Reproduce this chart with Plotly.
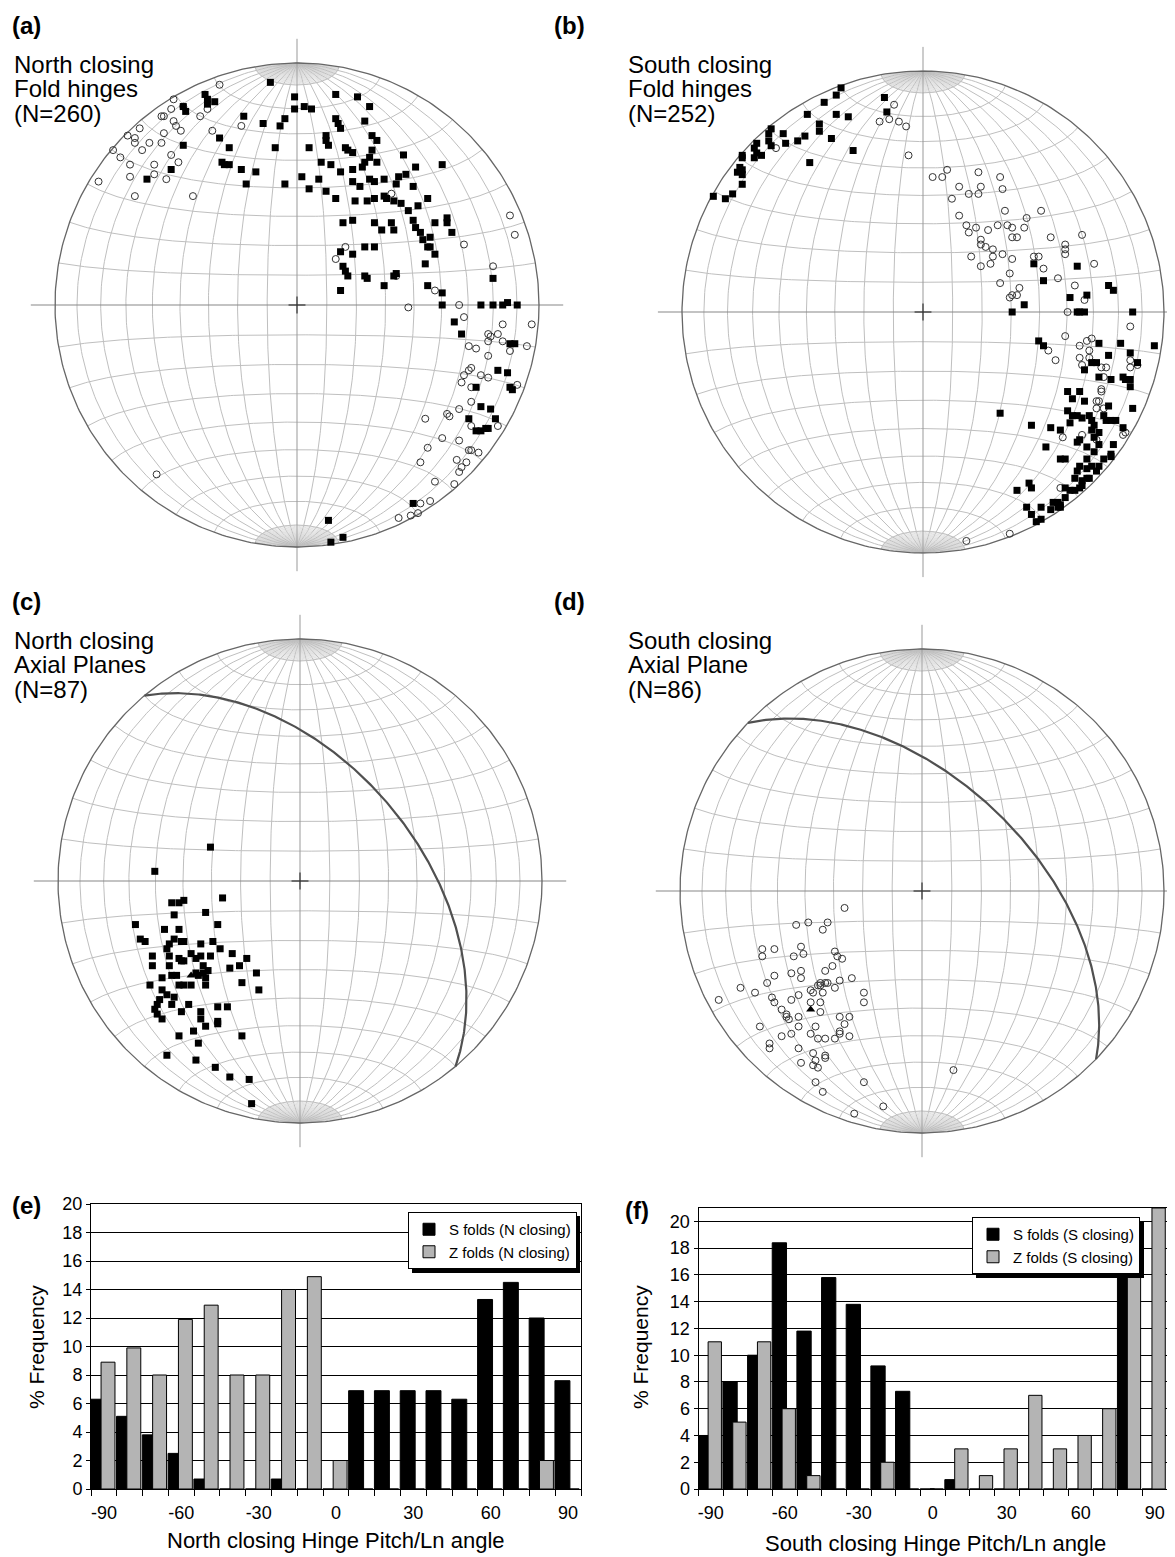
import numpy as np
import plotly.graph_objects as go

W, H = 1175, 1557
OFF = 8  # page offset of the figure (default body margin)
FONT = "Liberation Sans, Arial, Helvetica, sans-serif"

# ---------------- stereonet data (net coordinates, unit = primitive radius) ----------------
A_SQUARES = [(-0.11,0.92),(-0.01,0.86),(-0.01,0.81),(0.03,0.82),(0.06,0.81),(0.16,0.87),(0.25,0.86),(0.30,0.82),
 (0.28,0.76),(0.16,0.77),(0.17,0.75),(0.18,0.73),(-0.38,0.87),(-0.37,0.85),(-0.37,0.83),(-0.34,0.84),(-0.47,0.82),
 (-0.46,0.80),(-0.22,0.78),(-0.14,0.75),(-0.05,0.77),(-0.07,0.74),(-0.09,0.65),(0.05,0.65),(0.12,0.70),(0.12,0.68),
 (0.13,0.66),(0.20,0.65),(0.21,0.64),(0.23,0.63),(0.31,0.70),(0.33,0.68),(0.31,0.64),(0.44,0.62),(0.49,0.57),(0.60,0.58),
 (-0.32,0.69),(-0.28,0.65),(-0.47,0.66),(-0.52,0.56),(-0.62,0.52),(-0.31,0.59),(-0.30,0.58),(-0.28,0.58),(-0.23,0.56),
 (-0.17,0.55),(-0.21,0.50),(-0.05,0.50),(0.02,0.53),(0.05,0.48),(0.10,0.59),(0.14,0.58),(0.09,0.52),(0.12,0.47),(0.16,0.44),
 (0.18,0.55),(0.23,0.56),(0.27,0.57),(0.28,0.59),(0.30,0.61),(0.33,0.59),(0.23,0.51),(0.26,0.49),(0.30,0.52),(0.32,0.51),
 (0.36,0.52),(0.41,0.50),(0.42,0.53),(0.45,0.54),(0.48,0.49),(0.24,0.43),(0.29,0.43),(0.32,0.44),(0.36,0.45),(0.37,0.44),
 (0.40,0.43),(0.43,0.42),(0.46,0.39),(0.50,0.41),(0.54,0.44),(0.48,0.35),(0.49,0.32),(0.51,0.30),(0.52,0.27),(0.54,0.24),
 (0.55,0.24),(0.55,0.28),(0.57,0.34),(0.62,0.36),(0.62,0.34),(0.64,0.30),(0.19,0.34),(0.23,0.35),(0.32,0.34),(0.35,0.31),
 (0.39,0.34),(0.40,0.31),(0.18,0.22),(0.23,0.21),(0.28,0.24),(0.32,0.24),(0.19,0.16),(0.20,0.14),(0.21,0.12),(0.28,0.12),
 (0.29,0.11),(0.40,0.12),(0.41,0.13),(0.53,0.17),(0.57,0.21),(0.18,0.06),(0.36,0.08),(0.54,0.08),(0.60,0.05),(0.60,0.00),
 (0.76,0.00),(0.81,0.00),(0.85,0.00),(0.87,0.01),(0.91,0.00),(0.81,0.11),(0.65,-0.07),(0.68,-0.12),(0.88,-0.16),(0.90,-0.16),
 (0.83,-0.27),(0.87,-0.28),(0.88,-0.34),(0.89,-0.35),(0.74,-0.34),(0.76,-0.42),(0.80,-0.43),(0.71,-0.47),(0.82,-0.47),
 (0.74,-0.52),(0.76,-0.52),(0.78,-0.51),(0.79,-0.51),(0.48,-0.82),(0.13,-0.89),(0.14,-0.98),(0.19,-0.96)]
A_CIRCLES = [(-0.32,0.91),(-0.51,0.85),(-0.47,0.82),(-0.52,0.81),(-0.55,0.78),(-0.56,0.78),(-0.51,0.76),(-0.40,0.78),
 (-0.37,0.81),(-0.48,0.72),(-0.50,0.74),(-0.65,0.73),(-0.70,0.70),(-0.67,0.69),(-0.67,0.67),(-0.64,0.64),(-0.61,0.67),
 (-0.56,0.67),(-0.55,0.71),(-0.76,0.64),(-0.73,0.61),(-0.69,0.58),(-0.59,0.58),(-0.52,0.62),(-0.49,0.59),(-0.69,0.53),
 (-0.59,0.54),(-0.54,0.52),(-0.82,0.51),(-0.67,0.45),(-0.43,0.45),(-0.35,0.72),(-0.23,0.74),(0.39,0.46),(0.20,0.24),
 (0.16,0.19),(0.41,0.12),(0.57,0.06),(0.46,-0.01),(0.67,0.00),(0.69,-0.05),(0.69,0.25),(0.81,0.16),(0.88,0.37),(0.90,0.29),
 (0.97,-0.08),(0.95,-0.17),(0.85,-0.08),(0.79,-0.12),(0.80,-0.13),(0.79,-0.15),(0.83,-0.12),(0.71,-0.17),(0.74,-0.18),
 (0.85,-0.15),(0.88,-0.19),(0.79,-0.21),(0.72,-0.26),(0.71,-0.27),(0.69,-0.29),(0.68,-0.32),(0.76,-0.29),(0.79,-0.30),
 (0.72,-0.34),(0.72,-0.40),(0.67,-0.43),(0.62,-0.45),(0.63,-0.46),(0.53,-0.47),(0.72,-0.50),(0.83,-0.50),(0.60,-0.55),
 (0.67,-0.56),(0.54,-0.59),(0.71,-0.60),(0.72,-0.60),(0.75,-0.61),(0.66,-0.64),(0.70,-0.65),(0.51,-0.65),(0.68,-0.67),
 (0.67,-0.69),(0.57,-0.73),(0.65,-0.74),(0.55,-0.81),(0.51,-0.82),(0.42,-0.88),(0.47,-0.87),(0.50,-0.86),(0.91,-0.33),
 (-0.58,-0.70)]

B_SQUARES = [(-0.34,0.93),(-0.36,0.90),(-0.41,0.87),(-0.48,0.82),(-0.43,0.78),(-0.43,0.75),(-0.36,0.82),(-0.31,0.81),
 (-0.16,0.89),(-0.15,0.83),(-0.38,0.72),(-0.29,0.67),(-0.47,0.62),(-0.49,0.73),(-0.52,0.71),(-0.57,0.70),(-0.58,0.74),
 (-0.63,0.76),(-0.64,0.74),(-0.64,0.71),(-0.63,0.69),(-0.69,0.70),(-0.70,0.68),(-0.69,0.66),(-0.67,0.65),(-0.70,0.64),
 (-0.75,0.65),(-0.75,0.64),(-0.76,0.60),(-0.77,0.58),(-0.75,0.57),(-0.75,0.59),(-0.75,0.53),(-0.79,0.49),(-0.82,0.47),
 (-0.87,0.48),(0.46,0.20),(0.64,0.19),(0.50,0.13),(0.61,0.06),(0.68,0.07),(0.77,0.11),(0.79,0.09),(0.42,0.03),
 (0.37,0.00),(0.64,0.00),(0.65,0.00),(0.67,0.00),(0.87,0.00),(0.48,-0.12),(0.50,-0.14),(0.73,-0.13),(0.82,-0.13),(0.96,-0.14),
 (0.77,-0.18),(0.86,-0.17),(0.89,-0.21),(0.70,-0.21),(0.72,-0.21),(0.67,-0.24),(0.73,-0.27),(0.78,-0.28),(0.83,-0.27),
 (0.84,-0.28),(0.86,-0.28),(0.86,-0.31),(0.60,-0.33),(0.65,-0.33),(0.62,-0.36),(0.67,-0.37),(0.77,-0.39),(0.87,-0.40),
 (0.32,-0.42),(0.60,-0.41),(0.62,-0.43),(0.64,-0.43),(0.66,-0.44),(0.69,-0.43),(0.70,-0.45),(0.71,-0.47),(0.75,-0.43),
 (0.76,-0.45),(0.78,-0.45),(0.80,-0.45),(0.45,-0.47),(0.53,-0.48),(0.57,-0.49),(0.61,-0.46),(0.70,-0.49),(0.73,-0.50),
 (0.83,-0.48),(0.65,-0.53),(0.71,-0.52),(0.73,-0.55),(0.51,-0.56),(0.64,-0.54),(0.68,-0.56),(0.71,-0.58),(0.79,-0.55),
 (0.75,-0.61),(0.78,-0.60),(0.78,-0.59),(0.57,-0.61),(0.59,-0.61),(0.68,-0.61),(0.65,-0.64),(0.64,-0.66),(0.68,-0.65),
 (0.70,-0.64),(0.73,-0.64),(0.72,-0.66),(0.69,-0.69),(0.68,-0.69),(0.63,-0.69),(0.66,-0.70),(0.39,-0.74),(0.44,-0.71),
 (0.45,-0.73),(0.59,-0.73),(0.61,-0.74),(0.63,-0.74),(0.65,-0.73),(0.66,-0.72),(0.59,-0.77),(0.54,-0.79),(0.56,-0.79),
 (0.57,-0.80),(0.56,-0.81),(0.53,-0.82),(0.57,-0.81),(0.43,-0.81),(0.45,-0.84),(0.49,-0.81),(0.47,-0.87),(0.49,-0.86)]
B_CIRCLES = [(-0.12,0.86),(-0.18,0.79),(-0.14,0.80),(-0.10,0.79),(-0.07,0.77),(-0.06,0.65),(-0.61,0.68),(0.04,0.56),
 (0.08,0.56),(0.10,0.59),(0.12,0.47),(0.15,0.52),(0.19,0.49),(0.23,0.58),(0.24,0.52),(0.23,0.49),(0.32,0.56),(0.33,0.51),
 (0.15,0.40),(0.18,0.36),(0.19,0.33),(0.22,0.35),(0.27,0.34),(0.31,0.36),(0.34,0.42),(0.35,0.36),(0.37,0.35),(0.37,0.31),
 (0.39,0.31),(0.42,0.35),(0.43,0.39),(0.49,0.42),(0.53,0.31),(0.24,0.30),(0.24,0.28),(0.26,0.27),(0.29,0.26),(0.20,0.23),
 (0.24,0.19),(0.28,0.20),(0.29,0.23),(0.33,0.24),(0.37,0.22),(0.36,0.16),(0.32,0.12),(0.37,0.07),(0.39,0.07),(0.40,0.10),
 (0.36,0.06),(0.46,0.23),(0.48,0.23),(0.50,0.18),(0.56,0.14),(0.59,0.28),(0.59,0.26),(0.59,0.24),(0.66,0.32),(0.71,0.20),
 (0.63,0.11),(0.67,0.05),(0.60,0.00),(0.59,-0.10),(0.65,-0.14),(0.68,-0.12),(0.70,-0.11),(0.86,-0.06),(0.69,-0.16),
 (0.65,-0.19),(0.66,-0.22),(0.69,-0.19),(0.74,-0.23),(0.76,-0.23),(0.75,-0.27),(0.86,-0.20),(0.86,-0.23),(0.89,-0.22),
 (0.55,-0.20),(0.52,-0.16),(0.74,-0.32),(0.74,-0.33),(0.72,-0.37),(0.73,-0.37),(0.72,-0.40),(0.75,-0.40),(0.84,-0.50),
 (0.83,-0.51),(0.58,-0.52),(0.66,-0.51),(0.72,-0.53),(0.57,-0.73),(0.18,-0.95),(0.36,-0.92)]

C_SQUARES = [(-0.37,0.14),(-0.60,0.04),(-0.32,-0.07),(-0.53,-0.09),(-0.50,-0.09),(-0.48,-0.08),(-0.39,-0.13),(-0.52,-0.14),
 (-0.34,-0.18),(-0.68,-0.18),(-0.56,-0.20),(-0.50,-0.20),(-0.66,-0.24),(-0.64,-0.25),(-0.52,-0.24),(-0.49,-0.25),(-0.48,-0.25),
 (-0.54,-0.26),(-0.36,-0.25),(-0.41,-0.26),(-0.61,-0.31),(-0.55,-0.28),(-0.54,-0.31),(-0.50,-0.32),(-0.49,-0.33),(-0.48,-0.33),
 (-0.45,-0.30),(-0.43,-0.32),(-0.41,-0.31),(-0.37,-0.31),(-0.33,-0.28),(-0.28,-0.30),(-0.22,-0.32),(-0.61,-0.35),(-0.54,-0.35),
 (-0.40,-0.35),(-0.29,-0.36),(-0.25,-0.35),(-0.18,-0.38),(-0.57,-0.40),(-0.53,-0.39),(-0.51,-0.39),(-0.43,-0.38),(-0.42,-0.39),
 (-0.40,-0.38),(-0.38,-0.37),(-0.39,-0.40),(-0.62,-0.43),(-0.57,-0.45),(-0.50,-0.43),(-0.48,-0.43),(-0.45,-0.43),(-0.39,-0.43),
 (-0.24,-0.42),(-0.17,-0.45),(-0.58,-0.49),(-0.55,-0.47),(-0.52,-0.48),(-0.53,-0.51),(-0.59,-0.51),(-0.60,-0.53),(-0.59,-0.55),
 (-0.57,-0.57),(-0.49,-0.54),(-0.46,-0.51),(-0.41,-0.54),(-0.34,-0.52),(-0.30,-0.52),(-0.41,-0.57),(-0.34,-0.58),(-0.34,-0.59),
 (-0.39,-0.60),(-0.44,-0.62),(-0.50,-0.64),(-0.42,-0.67),(-0.24,-0.64),(-0.55,-0.72),(-0.43,-0.74),(-0.35,-0.77),(-0.29,-0.81),
 (-0.21,-0.82),(-0.20,-0.92)]
C_MEAN = [(-0.45,-0.39)]

D_CIRCLES = [(-0.32,-0.07),(-0.52,-0.14),(-0.47,-0.13),(-0.39,-0.13),(-0.41,-0.16),(-0.66,-0.24),(-0.66,-0.27),(-0.61,-0.24),
 (-0.50,-0.23),(-0.49,-0.26),(-0.53,-0.27),(-0.36,-0.25),(-0.35,-0.27),(-0.33,-0.28),(-0.37,-0.31),(-0.40,-0.33),(-0.50,-0.33),
 (-0.54,-0.34),(-0.50,-0.36),(-0.61,-0.35),(-0.64,-0.38),(-0.75,-0.40),(-0.69,-0.42),(-0.29,-0.36),(-0.34,-0.37),(-0.42,-0.38),
 (-0.42,-0.39),(-0.40,-0.38),(-0.39,-0.38),(-0.43,-0.39),(-0.36,-0.40),(-0.46,-0.41),(-0.45,-0.42),(-0.41,-0.42),(-0.51,-0.43),
 (-0.24,-0.42),(-0.24,-0.46),(-0.62,-0.44),(-0.61,-0.46),(-0.54,-0.45),(-0.46,-0.46),(-0.42,-0.46),(-0.84,-0.45),(-0.42,-0.50),
 (-0.58,-0.49),(-0.56,-0.51),(-0.56,-0.52),(-0.55,-0.53),(-0.51,-0.52),(-0.34,-0.52),(-0.30,-0.52),(-0.44,-0.56),(-0.32,-0.55),
 (-0.51,-0.56),(-0.46,-0.59),(-0.67,-0.56),(-0.58,-0.60),(-0.54,-0.59),(-0.43,-0.61),(-0.40,-0.61),(-0.36,-0.61),(-0.34,-0.59),
 (-0.34,-0.58),(-0.30,-0.60),(-0.63,-0.63),(-0.63,-0.65),(-0.51,-0.65),(-0.45,-0.67),(-0.40,-0.68),(-0.40,-0.69),(-0.44,-0.70),
 (-0.50,-0.71),(-0.45,-0.72),(-0.43,-0.73),(0.13,-0.74),(-0.24,-0.79),(-0.44,-0.79),(-0.41,-0.83),(-0.16,-0.89),(-0.28,-0.92)]
D_MEAN = [(-0.46,-0.49)]

# mean axial planes: (dip direction, dip) in degrees
C_PLANE = (50, 50)
D_PLANE = (44, 53)

# ---------------- histogram data ----------------
CATEGORIES = [-90, -80, -70, -60, -50, -40, -30, -20, -10, 0, 10, 20, 30, 40, 50, 60, 70, 80, 90]
E_S_FOLDS = [6.3, 5.1, 3.8, 2.5, 0.7, 0, 0, 0.7, 0, 0, 6.9, 6.9, 6.9, 6.9, 6.3, 13.3, 14.5, 12.0, 7.6]
E_Z_FOLDS = [8.9, 9.9, 8.0, 11.9, 12.9, 8.0, 8.0, 14.0, 14.9, 2.0, 0, 0, 0, 0, 0, 0, 0, 2.0, 0]
F_S_FOLDS = [4.0, 8.0, 10.0, 18.4, 11.8, 15.8, 13.8, 9.2, 7.3, 0, 0.7, 0, 0, 0, 0, 0, 0, 19.9, 0]
F_Z_FOLDS = [11, 5, 11, 6, 1, 0, 0, 2, 0, 0, 3, 1, 3, 7, 3, 4, 6, 16, 21]
TICK_LABELS = [-90, -60, -30, 0, 30, 60, 90]
Y_TICKS = list(range(0, 21, 2))


# ---------------- helpers ----------------
def PX(px):
    return (px - OFF) / W


def PY(py):
    return 1 - (py - OFF) / H


def proj(e, n, d):
    k = 1.0 / np.sqrt(1.0 + d)
    return e * k, n * k


def net_lines():
    gx, gy, fx, fy = [], [], [], []
    phi = np.radians(np.linspace(-90, 90, 181))
    for lam in range(-80, 81, 10):
        if lam == 0:
            continue
        l = np.radians(lam)
        X, Y = proj(np.cos(phi) * np.sin(l), np.sin(phi), np.cos(phi) * np.cos(l))
        gx += list(X) + [None]; gy += list(Y) + [None]
    lamv = np.radians(np.linspace(-90, 90, 181))
    for ph in range(-80, 81, 10):
        if ph == 0:
            continue
        p = np.radians(ph)
        X, Y = proj(np.cos(p) * np.sin(lamv), np.sin(p) * np.ones_like(lamv), np.cos(p) * np.cos(lamv))
        gx += list(X) + [None]; gy += list(Y) + [None]
    for sgn in (1, -1):
        ph = np.radians(np.linspace(80, 90, 6)) * sgn
        for lam in range(-88, 89, 2):
            if lam % 10 == 0:
                continue
            l = np.radians(lam)
            X, Y = proj(np.cos(ph) * np.sin(l), np.sin(ph), np.cos(ph) * np.cos(l))
            fx += list(X) + [None]; fy += list(Y) + [None]
    return gx, gy, fx, fy


def plane_curve(ddir, dip):
    st = np.radians(ddir - 90); dd = np.radians(ddir); dp = np.radians(dip)
    a = np.radians(np.linspace(0, 180, 361))
    e = np.cos(a) * np.sin(st) + np.sin(a) * np.cos(dp) * np.sin(dd)
    n = np.cos(a) * np.cos(st) + np.sin(a) * np.cos(dp) * np.cos(dd)
    d = np.sin(a) * np.sin(dp)
    return proj(e, n, d)


GX, GY, FX, FY = net_lines()
t = np.linspace(0, 2 * np.pi, 361)

fig = go.Figure()
layout_axes = {}
annotations = []
shapes = []


def ann(text, px, py, size=24, bold=False, xanchor="left", angle=0):
    annotations.append(dict(
        text=("<b>%s</b>" % text) if bold else text, x=PX(px), y=PY(py),
        xref="paper", yref="paper", xanchor=xanchor, yanchor="middle", showarrow=False,
        textangle=angle, font=dict(family=FONT, size=size, color="black")))


panels = [
    dict(i=1, cx=297, cy=305, R=242, sq=A_SQUARES, ci=A_CIRCLES, plane=None, mean=None),
    dict(i=2, cx=923, cy=312, R=241, sq=B_SQUARES, ci=B_CIRCLES, plane=None, mean=None),
    dict(i=3, cx=300, cy=881, R=242, sq=C_SQUARES, ci=None, plane=C_PLANE, mean=C_MEAN),
    dict(i=4, cx=922, cy=891, R=242, sq=None, ci=D_CIRCLES, plane=D_PLANE, mean=D_MEAN),
]

for p in panels:
    i = p["i"]; xa = "x%d" % i if i > 1 else "x"; ya = "y%d" % i if i > 1 else "y"
    cx, cy, R = p["cx"], p["cy"], p["R"]
    x0 = -1.12
    x1 = min(1.12, (W + OFF - cx) / R)
    y0, y1 = -1.12, 1.12
    layout_axes["xaxis%d" % i if i > 1 else "xaxis"] = dict(
        domain=[PX(cx + x0 * R), min(1.0, PX(cx + x1 * R))], range=[x0, x1], anchor=ya,
        visible=False, fixedrange=True, automargin=False)
    layout_axes["yaxis%d" % i if i > 1 else "yaxis"] = dict(
        domain=[PY(cy - y0 * R), PY(cy - y1 * R)], range=[y0, y1], anchor=xa,
        visible=False, fixedrange=True, automargin=False)
    common = dict(xaxis=xa, yaxis=ya, showlegend=False, hoverinfo="skip")
    fig.add_trace(go.Scatter(x=FX, y=FY, mode="lines", line=dict(color="#cdcdcd", width=0.6), **common))
    fig.add_trace(go.Scatter(x=GX, y=GY, mode="lines", line=dict(color="#bfbfbf", width=1), **common))
    fig.add_trace(go.Scatter(x=[0, 0, None, 0, 0, None, 0, 0], y=[-1, 1, None, 1, 1.1, None, -1, -1.1],
                             mode="lines", line=dict(color="#999", width=1), **common))
    fig.add_trace(go.Scatter(x=[-1.1, 1.1], y=[0, 0], mode="lines", line=dict(color="#888", width=1.2), **common))
    fig.add_trace(go.Scatter(x=[-0.035, 0.035, None, 0, 0], y=[0, 0, None, -0.035, 0.035], mode="lines",
                             line=dict(color="#333", width=1.2), **common))
    fig.add_trace(go.Scatter(x=np.cos(t), y=np.sin(t), mode="lines", line=dict(color="#666", width=1.3), **common))
    if p["plane"]:
        PXs, PYs = plane_curve(*p["plane"])
        fig.add_trace(go.Scatter(x=PXs, y=PYs, mode="lines", line=dict(color="#505050", width=2.2), **common))
    if p["ci"]:
        xs, ys = zip(*p["ci"])
        fig.add_trace(go.Scatter(x=xs, y=ys, mode="markers",
                                 marker=dict(symbol="circle-open", size=7, color="#333", line=dict(width=1)), **common))
    if p["sq"]:
        xs, ys = zip(*p["sq"])
        fig.add_trace(go.Scatter(x=xs, y=ys, mode="markers",
                                 marker=dict(symbol="square", size=7, color="black"), **common))
    if p["mean"]:
        xs, ys = zip(*p["mean"])
        fig.add_trace(go.Scatter(x=xs, y=ys, mode="markers",
                                 marker=dict(symbol="triangle-up", size=8, color="black"), **common))

# ---------------- panel texts ----------------
for lab, lx, tx, ty0, lines in [
    ("(a)", 10, 12, 0, ["North closing", "Fold hinges", "(N=260)"]),
    ("(b)", 552, 626, 0, ["South closing", "Fold hinges", "(N=252)"]),
    ("(c)", 10, 12, 576, ["North closing", "Axial Planes", "(N=87)"]),
    ("(d)", 552, 626, 576, ["South closing", "Axial Plane", "(N=86)"]),
]:
    ann(lab, lx, 26 + ty0, bold=True)
    for k, s in enumerate(lines):
        ann(s, tx, 64.5 + ty0 + 24.3 * k)

# ---------------- histograms ----------------
BAR_S = dict(width=5.8, offset=-5.1)
BAR_Z = dict(width=5.4, offset=-1.1)
fig.add_trace(go.Bar(x=CATEGORIES, y=E_S_FOLDS, name="S folds (N closing)", xaxis="x5", yaxis="y5", legend="legend",
                     marker=dict(color="black", line=dict(color="black", width=1)), hoverinfo="skip", **BAR_S))
fig.add_trace(go.Bar(x=CATEGORIES, y=E_Z_FOLDS, name="Z folds (N closing)", xaxis="x5", yaxis="y5", legend="legend",
                     marker=dict(color="#b4b4b4", line=dict(color="black", width=1)), hoverinfo="skip", **BAR_Z))
fig.add_trace(go.Bar(x=CATEGORIES, y=F_S_FOLDS, name="S folds (S closing)", xaxis="x6", yaxis="y6", legend="legend2",
                     marker=dict(color="black", line=dict(color="black", width=1)), hoverinfo="skip", **BAR_S))
fig.add_trace(go.Bar(x=CATEGORIES, y=F_Z_FOLDS, name="Z folds (S closing)", xaxis="x6", yaxis="y6", legend="legend2",
                     marker=dict(color="#b4b4b4", line=dict(color="black", width=1)), hoverinfo="skip", **BAR_Z))

tickfont = dict(family=FONT, size=18, color="black")


def hist_x(dom, anchor):
    return dict(domain=dom, anchor=anchor, range=[-95, 95], tickmode="array", tickvals=TICK_LABELS,
                ticktext=[str(v) for v in TICK_LABELS], ticks="outside", ticklen=7, tickcolor="rgba(0,0,0,0)",
                minor=dict(tickmode="array", tickvals=list(range(-95, 96, 10)), ticks="outside", ticklen=6,
                           tickcolor="black", tickwidth=1, showgrid=False),
                showline=True, linecolor="black", linewidth=1, mirror=True, showgrid=False, zeroline=False,
                tickfont=tickfont, fixedrange=True, automargin=False)


def hist_y(dom, anchor, top):
    return dict(domain=dom, anchor=anchor, range=[0, top], tickmode="array", tickvals=Y_TICKS,
                ticks="outside", ticklen=4, tickcolor="black", showgrid=True, gridcolor="black", gridwidth=1,
                showline=True, linecolor="black", linewidth=1, mirror=True, zeroline=False,
                tickfont=tickfont, fixedrange=True, automargin=False)


layout_axes["xaxis5"] = hist_x([PX(91), PX(581)], "y5")
layout_axes["yaxis5"] = hist_y([PY(1489), PY(1204)], "x5", 20)
layout_axes["xaxis6"] = hist_x([PX(698.5), PX(1167)], "y6")
layout_axes["yaxis6"] = hist_y([PY(1489), PY(1208)], "x6", 21)

ann("(e)", 10, 1205, bold=True)
ann("(f)", 623, 1210, bold=True)
ann("% Frequency", 36, 1347, size=21, xanchor="center", angle=-90)
ann("% Frequency", 640, 1347, size=21, xanchor="center", angle=-90)
ann("North closing Hinge Pitch/Ln angle", 336, 1540, size=22, xanchor="center")
ann("South closing Hinge Pitch/Ln angle", 935, 1543, size=22, xanchor="center")

# legends (box ~168 x 57 px) with drop shadows
LEG_E = (408, 1212)
LEG_F = (972, 1217)
LW, LH = 168, 57
for (lx, ly) in [LEG_E, LEG_F]:
    shapes.append(dict(type="rect", xref="paper", yref="paper", layer="above",
                       x0=PX(lx + 4), x1=PX(lx + LW + 4), y0=PY(ly + LH + 4), y1=PY(ly + 4),
                       fillcolor="black", line=dict(width=0)))

legend_style = dict(xanchor="left", yanchor="top", bgcolor="white", bordercolor="black", borderwidth=1,
                    font=dict(family=FONT, size=15, color="black"), itemwidth=30, tracegroupgap=0)

fig.update_layout(
    width=W, height=H, margin=dict(l=0, r=0, t=0, b=0, pad=0), autosize=False,
    paper_bgcolor="white", plot_bgcolor="rgba(0,0,0,0)",
    barmode="overlay", showlegend=True,
    legend=dict(x=PX(LEG_E[0]), y=PY(LEG_E[1]), **legend_style),
    legend2=dict(x=PX(LEG_F[0]), y=PY(LEG_F[1]), **legend_style),
    annotations=annotations, shapes=shapes,
    font=dict(family=FONT, color="black"),
    **layout_axes,
)

fig.write_html("out.html")
